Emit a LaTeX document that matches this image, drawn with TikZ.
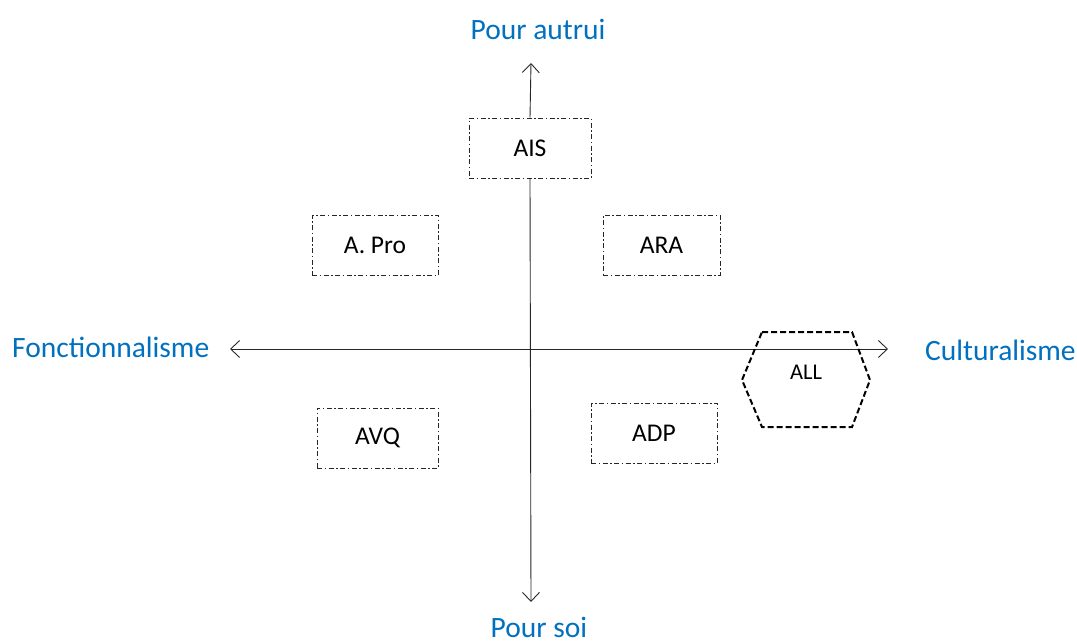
\documentclass[tikz,border=0pt]{standalone}
\usepackage{fontspec}
\setmainfont{Carlito}
\usetikzlibrary{arrows.meta}
\definecolor{axisblue}{HTML}{0070C0}
\definecolor{axisgray}{HTML}{262626}
\tikzset{
  quadbox/.style={draw=black!85, line width=1pt,
    dash pattern=on 5pt off 2.5pt on 1.5pt off 2.5pt,
    minimum height=60pt, inner sep=0pt, font=\fontsize{25.5}{30}\selectfont},
  axislabel/.style={text=axisblue, font=\fontsize{29.5}{34}\selectfont, inner sep=0pt},
  axisline/.style={draw=axisgray, line width=0.9pt},
  tip/.style={-{Straight Barb[length=9pt,width=17pt,line width=0.9pt]}},
  hexline/.style={draw=black, line width=2pt, dash pattern=on 6pt off 3pt}
}
\begin{document}
\begin{tikzpicture}[x=1pt,y=-1pt]
\useasboundingbox (0,0) rectangle (1077,643);
% boxes
\node[quadbox, minimum width=122pt] (ais) at (530,148) {AIS};
\node[quadbox, minimum width=126pt] (apro) at (375,245) {A. Pro};
\node[quadbox, minimum width=117pt] (ara) at (661.5,245) {ARA};
\node[quadbox, minimum width=121pt] (avq) at (377.5,438) {AVQ};
\node[quadbox, minimum width=126pt] (adp) at (654,433) {ADP};
% axis ends
\coordinate (top) at (531,63);
\coordinate (bottom) at (531,602);
\coordinate (left) at (230,349);
\coordinate (right) at (888,349);
% axes
\draw[axisline, tip] (ais.north) -- (top);
\draw[axisline, tip] (ais.south) -- (bottom);
\draw[axisline, tip] (ais.south |- left) -- (left);
\draw[axisline, tip] (ais.south |- right) -- (right);
% hexagon
\draw[hexline] (762,332) -- (852,332) -- (870,380) -- (852,427) -- (762,427) -- (742,380) -- cycle;
\node[font=\fontsize{22.5}{26}\selectfont, inner sep=0pt] (all) at (806,372) {ALL};
% axis labels
\node[axislabel] (pa) at (538,29) {Pour autrui};
\node[axislabel] (ps) at (539,627) {Pour soi};
\node[axislabel, anchor=west] (fo) at (12,347) {Fonctionnalisme};
\node[axislabel, anchor=west] (cu) at (925,350) {Culturalisme};
\end{tikzpicture}
\end{document}
